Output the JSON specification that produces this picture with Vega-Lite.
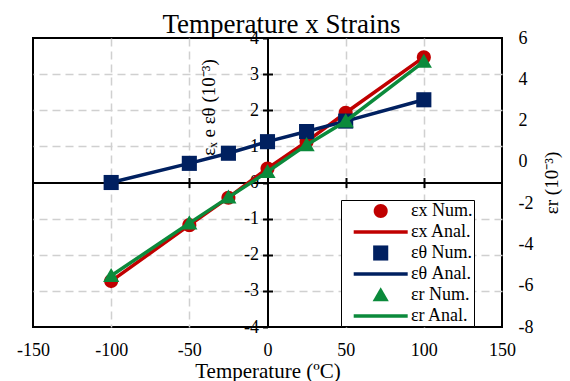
{
  "$schema": "https://vega.github.io/schema/vega-lite/v6.json",
  "width": 469,
  "height": 289,
  "autosize": "none",
  "padding": {"left": 33, "top": 38, "right": 68, "bottom": 54},
  "title": {"text": "Temperature x Strains", "font": "Liberation Serif", "fontSize": 27, "fontWeight": "normal", "color": "black", "anchor": "middle", "frame": "group", "baseline": "alphabetic", "offset": 5, "dx": 14, "dy": 36},
  "config": {
    "view": {"stroke": "black", "strokeWidth": 2},
    "font": "Liberation Serif",
    "axis": {"labelFont": "Liberation Serif", "titleFont": "Liberation Serif", "labelColor": "black", "titleColor": "black", "labelFontSize": 18, "titleFontWeight": "normal", "tickColor": "black", "domainColor": "black", "tickWidth": 2, "domainWidth": 2, "gridColor": "#d0d0d0", "gridDash": [8, 5], "gridWidth": 1.5, "labelExpr": "toString(datum.value)", "labelFlush": false, "labelOverlap": false}
  },
  "resolve": {"scale": {"y": "independent"}, "axis": {"x": "independent", "y": "independent"}},
  "layer": [
    {
      "data": {"values": [
        {"T": -100, "v": -2.73, "series": "εx Anal."},
        {"T": -50, "v": -1.18, "series": "εx Anal."},
        {"T": -25, "v": -0.42, "series": "εx Anal."},
        {"T": 0, "v": 0.39, "series": "εx Anal."},
        {"T": 25, "v": 1.13, "series": "εx Anal."},
        {"T": 50, "v": 1.93, "series": "εx Anal."},
        {"T": 100, "v": 3.47, "series": "εx Anal."},
        {"T": -100, "v": 0.0, "series": "εθ Anal."},
        {"T": -50, "v": 0.53, "series": "εθ Anal."},
        {"T": -25, "v": 0.81, "series": "εθ Anal."},
        {"T": 0, "v": 1.13, "series": "εθ Anal."},
        {"T": 25, "v": 1.41, "series": "εθ Anal."},
        {"T": 50, "v": 1.70, "series": "εθ Anal."},
        {"T": 100, "v": 2.29, "series": "εθ Anal."}
      ]},
      "mark": {"type": "line", "strokeWidth": 3.5},
      "encoding": {
        "x": {"field": "T", "type": "quantitative", "scale": {"domain": [-150, 150], "nice": false, "zero": false},
          "axis": {"orient": "bottom", "values": [-150, -100, -50, 0, 50, 100, 150], "ticks": false, "domain": false, "grid": false, "labelPadding": 14, "title": "Temperature (ºC)", "titleFontSize": 21, "titleBaseline": "alphabetic", "titleY": 50}},
        "y": {"field": "v", "type": "quantitative", "scale": {"domain": [-4, 4], "nice": false},
          "axis": {"orient": "left", "offset": -234.5, "values": [-4, -3, -2, -1, 0, 1, 2, 3, 4], "tickSize": 5, "labelPadding": 4, "grid": false, "title": "εₓ e εθ (10⁻³)", "titleFontSize": 19, "titleAngle": -90, "titleX": -59, "titleY": 69, "titleAlign": "center", "titleBaseline": "middle"}},
        "color": {"field": "series", "type": "nominal",
          "scale": {"domain": ["εx Num.", "εx Anal.", "εθ Num.", "εθ Anal.", "εr Num.", "εr Anal."], "range": ["#c00000", "#c00000", "#002060", "#002060", "#0b8a3b", "#0b8a3b"]}}
      }
    },
    {
      "data": {"values": [
        {"T": -100, "v": -2.73, "series": "εx Num."},
        {"T": -50, "v": -1.18, "series": "εx Num."},
        {"T": -25, "v": -0.42, "series": "εx Num."},
        {"T": 0, "v": 0.39, "series": "εx Num."},
        {"T": 25, "v": 1.13, "series": "εx Num."},
        {"T": 50, "v": 1.93, "series": "εx Num."},
        {"T": 100, "v": 3.47, "series": "εx Num."},
        {"T": -100, "v": 0.0, "series": "εθ Num."},
        {"T": -50, "v": 0.53, "series": "εθ Num."},
        {"T": -25, "v": 0.81, "series": "εθ Num."},
        {"T": 0, "v": 1.13, "series": "εθ Num."},
        {"T": 25, "v": 1.41, "series": "εθ Num."},
        {"T": 50, "v": 1.70, "series": "εθ Num."},
        {"T": 100, "v": 2.29, "series": "εθ Num."}
      ]},
      "mark": {"type": "point", "filled": true, "size": 384, "opacity": 1, "strokeWidth": 0},
      "encoding": {
        "x": {"field": "T", "type": "quantitative", "scale": {"domain": [-150, 150], "nice": false, "zero": false},
          "axis": {"orient": "bottom", "offset": -144.5, "values": [-100, -50, 50, 100], "labels": false, "domain": false, "grid": true, "tickSize": 5, "title": null}},
        "y": {"field": "v", "type": "quantitative", "scale": {"domain": [-4, 4], "nice": false},
          "axis": {"orient": "right", "offset": -234.5, "values": [-3, -2, -1, 1, 2, 3], "labels": false, "domain": false, "grid": true, "tickSize": 5, "title": null}},
        "color": {"field": "series", "type": "nominal",
          "scale": {"domain": ["εx Num.", "εx Anal.", "εθ Num.", "εθ Anal.", "εr Num.", "εr Anal."], "range": ["#c00000", "#c00000", "#002060", "#002060", "#0b8a3b", "#0b8a3b"]},
          "legend": {"title": null, "orient": "none", "legendX": 308, "legendY": 162, "fillColor": "white", "strokeColor": "black", "padding": 1, "labelFont": "Liberation Serif", "labelFontSize": 18, "labelColor": "black", "symbolSize": 384, "symbolStrokeWidth": 0, "symbolOffset": 28.7, "labelOffset": 20.2, "rowPadding": 2, "labelLimit": 300, "labelExpr": "datum.label + '\u00a0\u00a0\u00a0'",
            "encode": {"legend": {"update": {"strokeWidth": {"value": 1.5}}}}}},
        "shape": {"field": "series", "type": "nominal",
          "scale": {"domain": ["εx Num.", "εx Anal.", "εθ Num.", "εθ Anal.", "εr Num.", "εr Anal."], "range": ["M-0.716,0A0.716,0.716 0 1,0 0.716,0A0.716,0.716 0 1,0 -0.716,0Z", "M-2.755,-0.179H2.755V0.179H-2.755Z", "M-0.771,-0.771H0.771V0.771H-0.771Z", "M-2.755,-0.179H2.755V0.179H-2.755Z", "M0,-0.8L0.827,0.634H-0.827Z", "M-2.755,-0.179H2.755V0.179H-2.755Z"]},
          "legend": {"title": null, "orient": "none", "legendX": 308, "legendY": 162, "fillColor": "white", "strokeColor": "black", "padding": 1, "labelFont": "Liberation Serif", "labelFontSize": 18, "labelColor": "black", "symbolSize": 384, "symbolStrokeWidth": 0, "symbolOffset": 28.7, "labelOffset": 20.2, "rowPadding": 2, "labelLimit": 300, "labelExpr": "datum.label + '\u00a0\u00a0\u00a0'",
            "encode": {"legend": {"update": {"strokeWidth": {"value": 1.5}}}}}}
      }
    },
    {
      "data": {"values": [
        {"T": -100, "v": -5.52, "series": "εr Anal."},
        {"T": -50, "v": -2.97, "series": "εr Anal."},
        {"T": -25, "v": -1.72, "series": "εr Anal."},
        {"T": 0, "v": -0.48, "series": "εr Anal."},
        {"T": 25, "v": 0.82, "series": "εr Anal."},
        {"T": 50, "v": 1.97, "series": "εr Anal."},
        {"T": 100, "v": 4.86, "series": "εr Anal."}
      ]},
      "mark": {"type": "line", "strokeWidth": 3.5},
      "encoding": {
        "x": {"field": "T", "type": "quantitative", "scale": {"domain": [-150, 150], "nice": false, "zero": false},
          "axis": {"orient": "top", "offset": -144.5, "values": [-100, -50, 50, 100], "labels": false, "domain": true, "grid": false, "tickSize": 5, "title": null}},
        "y": {"field": "v", "type": "quantitative", "scale": {"domain": [-8, 6], "nice": false},
          "axis": {"orient": "right", "values": [-8, -6, -4, -2, 0, 2, 4, 6], "ticks": false, "domain": false, "grid": false, "labelPadding": 16, "labelAlign": "left", "title": "εr (10⁻³)", "titleFontSize": 19, "titleAngle": -90, "titleX": 49, "titleY": 144.5, "titleAlign": "center", "titleBaseline": "middle"}},
        "color": {"field": "series", "type": "nominal",
          "scale": {"domain": ["εx Num.", "εx Anal.", "εθ Num.", "εθ Anal.", "εr Num.", "εr Anal."], "range": ["#c00000", "#c00000", "#002060", "#002060", "#0b8a3b", "#0b8a3b"]}}
      }
    },
    {
      "data": {"values": [
        {"T": -100, "v": -5.52, "series": "εr Num."},
        {"T": -50, "v": -2.97, "series": "εr Num."},
        {"T": -25, "v": -1.72, "series": "εr Num."},
        {"T": 0, "v": -0.48, "series": "εr Num."},
        {"T": 25, "v": 0.82, "series": "εr Num."},
        {"T": 50, "v": 1.97, "series": "εr Num."},
        {"T": 100, "v": 4.86, "series": "εr Num."}
      ]},
      "mark": {"type": "point", "filled": true, "size": 384, "opacity": 1, "strokeWidth": 0},
      "encoding": {
        "x": {"field": "T", "type": "quantitative", "scale": {"domain": [-150, 150], "nice": false, "zero": false}, "axis": null},
        "y": {"field": "v", "type": "quantitative", "scale": {"domain": [-8, 6], "nice": false}, "axis": null},
        "color": {"field": "series", "type": "nominal",
          "scale": {"domain": ["εx Num.", "εx Anal.", "εθ Num.", "εθ Anal.", "εr Num.", "εr Anal."], "range": ["#c00000", "#c00000", "#002060", "#002060", "#0b8a3b", "#0b8a3b"]}},
        "shape": {"field": "series", "type": "nominal",
          "scale": {"domain": ["εx Num.", "εx Anal.", "εθ Num.", "εθ Anal.", "εr Num.", "εr Anal."], "range": ["M-0.716,0A0.716,0.716 0 1,0 0.716,0A0.716,0.716 0 1,0 -0.716,0Z", "M-2.755,-0.179H2.755V0.179H-2.755Z", "M-0.771,-0.771H0.771V0.771H-0.771Z", "M-2.755,-0.179H2.755V0.179H-2.755Z", "M0,-0.8L0.827,0.634H-0.827Z", "M-2.755,-0.179H2.755V0.179H-2.755Z"]}}
      }
    }
  ]
}
